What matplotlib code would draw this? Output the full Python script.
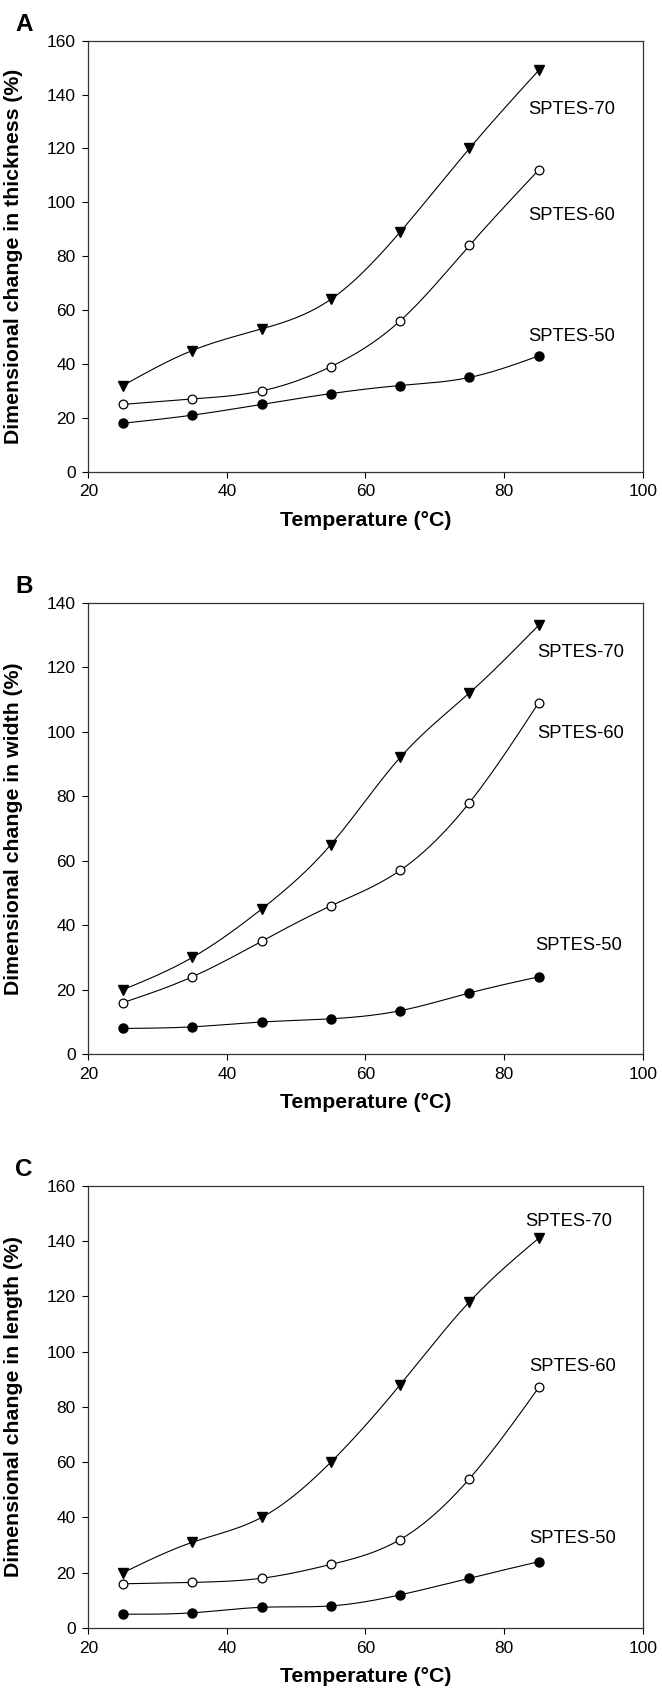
import numpy as np
import matplotlib
matplotlib.use("Agg")
import matplotlib.pyplot as plt

plt.rcParams['font.family'] = ['Liberation Sans', 'DejaVu Sans']

temperature = [25, 35, 45, 55, 65, 75, 85]

thick_50 = [18, 21, 25, 29, 32, 35, 43]
thick_60 = [25, 27, 30, 39, 56, 84, 112]
thick_70 = [32, 45, 53, 64, 89, 120, 149]

width_50 = [8, 8.5, 10, 11, 13.5, 19, 24]
width_60 = [16, 24, 35, 46, 57, 78, 109]
width_70 = [20, 30, 45, 65, 92, 112, 133]

length_50 = [5, 5.5, 7.5, 8, 12, 18, 24]
length_60 = [16, 16.5, 18, 23, 32, 54, 87]
length_70 = [20, 31, 40, 60, 88, 118, 141]

series_names = ["SPTES-50", "SPTES-60", "SPTES-70"]


def spline(x, y, n=200):
    # natural cubic spline, just for drawing the smooth line
    x = np.asarray(x, float)
    y = np.asarray(y, float)
    k = len(x)
    h = np.diff(x)
    A = np.zeros((k, k))
    r = np.zeros(k)
    A[0, 0] = A[-1, -1] = 1
    for i in range(1, k - 1):
        A[i, i - 1] = h[i - 1]
        A[i, i] = 2 * (h[i - 1] + h[i])
        A[i, i + 1] = h[i]
        r[i] = 6 * ((y[i + 1] - y[i]) / h[i] - (y[i] - y[i - 1]) / h[i - 1])
    m = np.linalg.solve(A, r)
    xs = np.linspace(x[0], x[-1], n)
    idx = np.clip(np.searchsorted(x, xs) - 1, 0, k - 2)
    x0, x1 = x[idx], x[idx + 1]
    hh = x1 - x0
    t0, t1 = x1 - xs, xs - x0
    ys = (m[idx] * t0 ** 3 + m[idx + 1] * t1 ** 3) / (6 * hh) \
        + (y[idx] / hh - m[idx] * hh / 6) * t0 \
        + (y[idx + 1] / hh - m[idx + 1] * hh / 6) * t1
    return xs, ys


panels = [
    ("A", [thick_50, thick_60, thick_70], "Dimensional change in thickness (%)", 160,
     [(89.8, 50.1), (89.8, 95.3), (89.8, 134.6)], [0.7207, 0.2552]),
    ("B", [width_50, width_60, width_70], "Dimensional change in width (%)", 140,
     [(90.8, 33.6), (91, 99.3), (91, 124.4)], [0.3758, 0.2674]),
    ("C", [length_50, length_60, length_70], "Dimensional change in length (%)", 160,
     [(89.9, 32.3), (89.9, 94.5), (89.3, 147.2)], [0.0361, 0.2619]),
]

fig = plt.figure(figsize=(6.62, 16.89), dpi=100)

styles = [
    dict(marker="o", mfc="black", mec="black", ms=6.5),
    dict(marker="o", mfc="white", mec="black", ms=6.3, mew=0.9),
    dict(marker="v", mfc="black", mec="black", ms=7.5),
]

for letter, data, ylab, ymax, label_pos, (bottom, height) in panels:
    ax = fig.add_axes([0.1334, bottom, 0.8374, height])
    for vals, st, name, pos in zip(data, styles, series_names, label_pos):
        xs, ys = spline(temperature, vals)
        ax.plot(xs, ys, color="black", lw=0.8, zorder=2)
        ax.plot(temperature, vals, ls="none", zorder=3, **st)
        ax.text(pos[0], pos[1], name, ha="center", va="center", fontsize=13.2)
    ax.set_xlim(20, 100)
    ax.set_ylim(0, ymax)
    ax.set_xticks([20, 40, 60, 80, 100])
    ax.set_yticks(np.arange(0, ymax + 1, 20))
    ax.tick_params(direction="out", length=4, width=0.8, labelsize=12.5, pad=5)
    for s in ax.spines.values():
        s.set_linewidth(0.9)
        s.set_color("#333333")
    ax.set_xlabel("Temperature (°C)", fontsize=15.3, fontweight="bold")
    ax.set_ylabel(ylab, fontsize=15.3, fontweight="bold")
    ax.yaxis.set_label_coords(-0.117, 0.5)
    ax.xaxis.set_label_coords(0.5, -39 / (height * 1689))
    fig.text(24 / 662, bottom + height + 16 / 1689, letter, fontsize=17.5,
             fontweight="bold", ha="center", va="center")

fig.savefig("out.png", dpi=100)
